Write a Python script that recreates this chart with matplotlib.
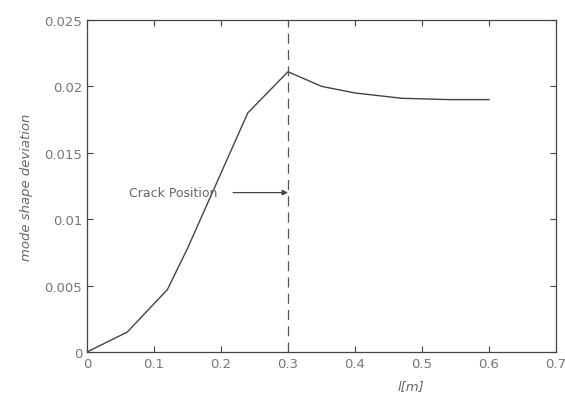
import matplotlib.pyplot as plt

x = [0, 0.06, 0.12, 0.15, 0.18, 0.21, 0.24, 0.30, 0.35, 0.40, 0.47, 0.54, 0.60]
y = [0, 0.0015, 0.0047, 0.0078, 0.0112, 0.0146, 0.018, 0.0211, 0.0200, 0.0195, 0.0191, 0.0190, 0.0190]

crack_x = 0.3
arrow_y = 0.012

xticks = [0, 0.1, 0.2, 0.3, 0.4, 0.5, 0.6, 0.7]
xticklabels = ['0', '0.1', '0.2', '0.3', '0.4', '0.5', '0.6', '0.7']
yticks = [0, 0.005, 0.01, 0.015, 0.02, 0.025]
yticklabels = ['0', '0.005', '0.01', '0.015', '0.02', '0.025']

fig = plt.figure(figsize=(5.65, 4.10), dpi=100)
ax = fig.add_axes([0.154, 0.139, 0.830, 0.810])

ax.plot(x, y, color='#444444', lw=1.0)
ax.axvline(crack_x, color='#555555', lw=0.9, ls=(0, (8, 5)))
ax.annotate('', xy=(crack_x, arrow_y), xytext=(0.218, arrow_y),
            arrowprops=dict(arrowstyle='-|>', color='#444444', lw=0.9, mutation_scale=8,
                            shrinkA=0, shrinkB=0))
ax.text(0.063, arrow_y, 'Crack Position', fontsize=9, color='#666666', va='center')

ax.set_xlim(0, 0.7)
ax.set_ylim(0, 0.025)
ax.set_xticks(xticks)
ax.set_xticklabels(xticklabels)
ax.set_yticks(yticks)
ax.set_yticklabels(yticklabels)
ax.tick_params(direction='in', top=True, right=True, labelsize=9.5, colors='#444444',
               labelcolor='#777777', length=4)
for s in ax.spines.values():
    s.set_color('#444444')
    s.set_linewidth(0.9)

ax.set_ylabel('mode shape deviation', fontsize=9.5, style='italic', color='#666666', labelpad=8)
ax.set_xlabel('l[m]', fontsize=9.5, style='italic', color='#666666')
ax.xaxis.set_label_coords(0.69, -0.08)

plt.savefig('out.png')
